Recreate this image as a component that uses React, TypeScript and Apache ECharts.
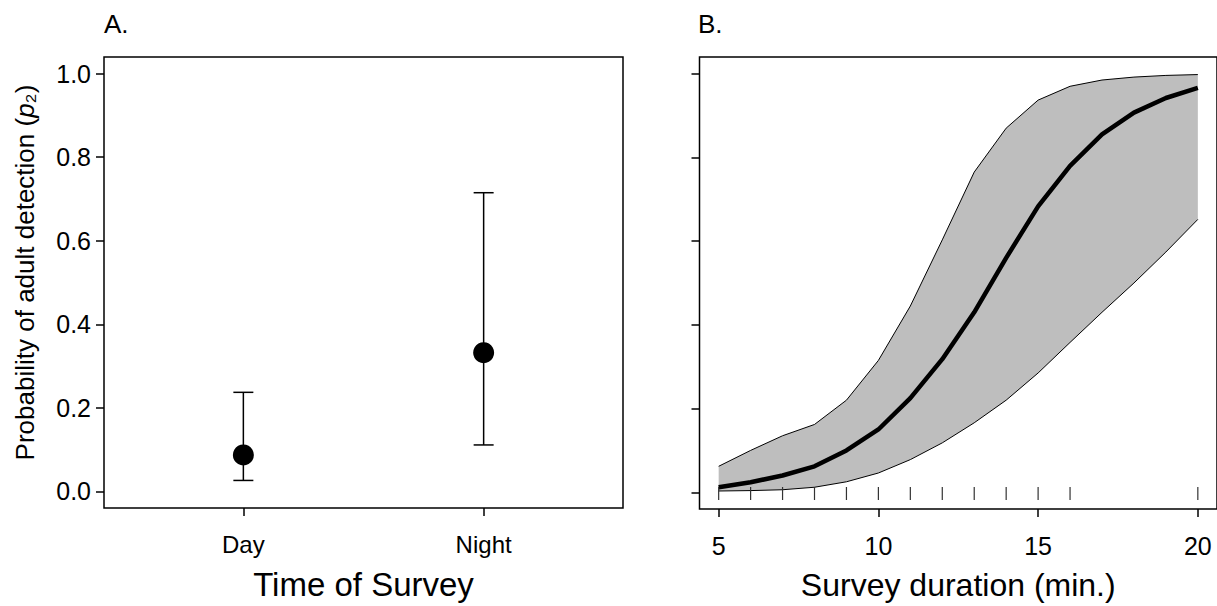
import React, { useEffect, useRef } from "react";
import * as echarts from "echarts";

// Panel A: time of survey
const surveyTimes = ["Day", "Night"];
const timePos = [1, 2];
const timeMean = [0.087, 0.332];
const timeLower = [0.026, 0.111];
const timeUpper = [0.237, 0.715];

// Panel B: survey duration
const durations = [5, 6, 7, 8, 9, 10, 11, 12, 13, 14, 15, 16, 17, 18, 19, 20];
const durMean = [0.012, 0.024, 0.04, 0.062, 0.1, 0.15, 0.225, 0.318, 0.43, 0.56, 0.683, 0.78, 0.855, 0.907, 0.942, 0.966];
const durLower = [0.003, 0.004, 0.006, 0.012, 0.025, 0.046, 0.078, 0.118, 0.166, 0.22, 0.285, 0.358, 0.43, 0.5, 0.574, 0.652];
const durUpper = [0.062, 0.1, 0.135, 0.162, 0.22, 0.315, 0.445, 0.603, 0.765, 0.87, 0.937, 0.97, 0.985, 0.992, 0.996, 0.998];
const rugDurations = [5, 6, 7, 8, 9, 10, 11, 12, 13, 14, 15, 16, 20];

const yTicks = [0, 0.2, 0.4, 0.6, 0.8, 1.0];
const durTicks = [5, 10, 15, 20];

const FONT = "'Liberation Sans', Arial, Helvetica, sans-serif";

export default function App() {
  const ref = useRef<HTMLDivElement>(null);
  useEffect(() => {
    if (!ref.current) return;
    const chart = echarts.init(ref.current, null, { renderer: "svg" });
    const axisLine = { show: false, onZero: false };
    const tickStyle = { color: "#000", width: 1.5 };
    const yAxisBase = (idx: number, showLabels: boolean) => ({
      type: "value",
      gridIndex: idx,
      min: -0.04,
      max: 1.04,
      splitLine: { show: false },
      axisLine,
      axisTick: { show: true, customValues: yTicks, length: 8, inside: false, lineStyle: tickStyle },
      axisLabel: {
        show: showLabels,
        customValues: yTicks,
        formatter: (v: number) => v.toFixed(1),
        fontSize: 25,
        fontFamily: FONT,
        color: "#000",
        margin: 13,
      },
    });

    const option: any = {
      animation: false,
      backgroundColor: "#fff",
      grid: [
        { left: 104, top: 57, width: 519, height: 452, show: true, borderColor: "#000", borderWidth: 1.5, backgroundColor: "transparent", z: 5 },
        { left: 699.5, top: 57, width: 518.4, height: 452, show: true, borderColor: "#000", borderWidth: 1.5, backgroundColor: "transparent", z: 5 },
      ],
      xAxis: [
        {
          type: "value",
          gridIndex: 0,
          min: 0.42,
          max: 2.58,
          splitLine: { show: false },
          axisLine,
          axisTick: { show: true, customValues: timePos, length: 8, lineStyle: tickStyle },
          axisLabel: {
            customValues: timePos,
            formatter: (v: number) => surveyTimes[timePos.indexOf(Math.round(v))] ?? "",
            fontSize: 24,
            fontFamily: FONT,
            color: "#000",
            margin: 24,
          },
          name: "Time of Survey",
          nameLocation: "middle",
          nameGap: 60,
          nameTextStyle: { fontSize: 33, fontFamily: FONT, color: "#000" },
        },
        {
          type: "value",
          gridIndex: 1,
          min: 4.4,
          max: 20.6,
          splitLine: { show: false },
          axisLine,
          axisTick: { show: true, customValues: durTicks, length: 8, lineStyle: tickStyle },
          axisLabel: {
            customValues: durTicks,
            fontSize: 25,
            fontFamily: FONT,
            color: "#000",
            margin: 24,
          },
          name: "Survey duration (min.)",
          nameLocation: "middle",
          nameGap: 60,
          nameTextStyle: { fontSize: 32, fontFamily: FONT, color: "#000" },
        },
      ],
      yAxis: [
        {
          ...yAxisBase(0, true),
          name: "{a|Probability of adult detection (}{i|p}{a|₂)}",
          nameLocation: "middle",
          nameGap: 66,
          nameTextStyle: {
            fontSize: 26,
            fontFamily: FONT,
            color: "#000",
            padding: [0, 0, 0, 20],
            rich: {
              a: { fontSize: 26, fontFamily: FONT, color: "#000" },
              i: { fontSize: 26, fontFamily: FONT, color: "#000", fontStyle: "italic" },
            },
          },
        },
        yAxisBase(1, false),
      ],
      graphic: [
        { type: "text", left: 104, top: 11, style: { text: "A.", fontSize: 26, fontFamily: FONT, fill: "#000" } },
        { type: "text", left: 698, top: 11, style: { text: "B.", fontSize: 26, fontFamily: FONT, fill: "#000" } },
      ],
      series: [
        {
          type: "custom",
          xAxisIndex: 0,
          yAxisIndex: 0,
          data: timePos.map((x, i) => [x, timeLower[i], timeUpper[i]]),
          renderItem: (params: any, api: any) => {
            const x = api.value(0);
            const lo = api.coord([x, api.value(1)]);
            const hi = api.coord([x, api.value(2)]);
            const w = 10;
            const style = { stroke: "#000", lineWidth: 1.5 };
            return {
              type: "group",
              children: [
                { type: "line", shape: { x1: lo[0], y1: lo[1], x2: hi[0], y2: hi[1] }, style },
                { type: "line", shape: { x1: lo[0] - w, y1: lo[1], x2: lo[0] + w, y2: lo[1] }, style },
                { type: "line", shape: { x1: hi[0] - w, y1: hi[1], x2: hi[0] + w, y2: hi[1] }, style },
              ],
            };
          },
          z: 2,
        },
        {
          type: "scatter",
          xAxisIndex: 0,
          yAxisIndex: 0,
          data: timePos.map((x, i) => [x, timeMean[i]]),
          symbol: "circle",
          symbolSize: 21,
          itemStyle: { color: "#000", opacity: 1 },
          z: 3,
        },
        {
          // confidence band polygon
          type: "custom",
          xAxisIndex: 1,
          yAxisIndex: 1,
          data: [[durations[0], durLower[0]]],
          renderItem: (params: any, api: any) => {
            const top = durations.map((x, i) => api.coord([x, durUpper[i]]));
            const bot = durations.map((x, i) => api.coord([x, durLower[i]])).reverse();
            return {
              type: "polygon",
              shape: { points: top.concat(bot) },
              style: { fill: "#bebebe", stroke: "none" },
            };
          },
          z: 1,
        },
        {
          type: "line",
          xAxisIndex: 1,
          yAxisIndex: 1,
          data: durations.map((x, i) => [x, durLower[i]]),
          showSymbol: false,
          lineStyle: { color: "#000", width: 1 },
          z: 2,
        },
        {
          type: "line",
          xAxisIndex: 1,
          yAxisIndex: 1,
          data: durations.map((x, i) => [x, durUpper[i]]),
          showSymbol: false,
          lineStyle: { color: "#000", width: 1 },
          z: 2,
        },
        {
          type: "line",
          xAxisIndex: 1,
          yAxisIndex: 1,
          data: durations.map((x, i) => [x, durMean[i]]),
          showSymbol: false,
          lineStyle: { color: "#000", width: 4.5 },
          z: 3,
        },
        {
          type: "custom",
          xAxisIndex: 1,
          yAxisIndex: 1,
          data: rugDurations.map((x) => [x, 0]),
          renderItem: (params: any, api: any) => {
            const p = api.coord([api.value(0), 0]);
            const cs = params.coordSys;
            const bottom = cs.y + cs.height;
            return {
              type: "line",
              shape: { x1: p[0], y1: bottom - 9, x2: p[0], y2: bottom - 22 },
              style: { stroke: "#333", lineWidth: 1.2 },
            };
          },
          z: 4,
        },
      ],
    };
    chart.setOption(option);
    return () => chart.dispose();
  }, []);
  return (
    <div
      ref={ref}
      style={{ position: "fixed", left: 0, top: 0, width: 1217, height: 606, background: "#fff" }}
    />
  );
}
